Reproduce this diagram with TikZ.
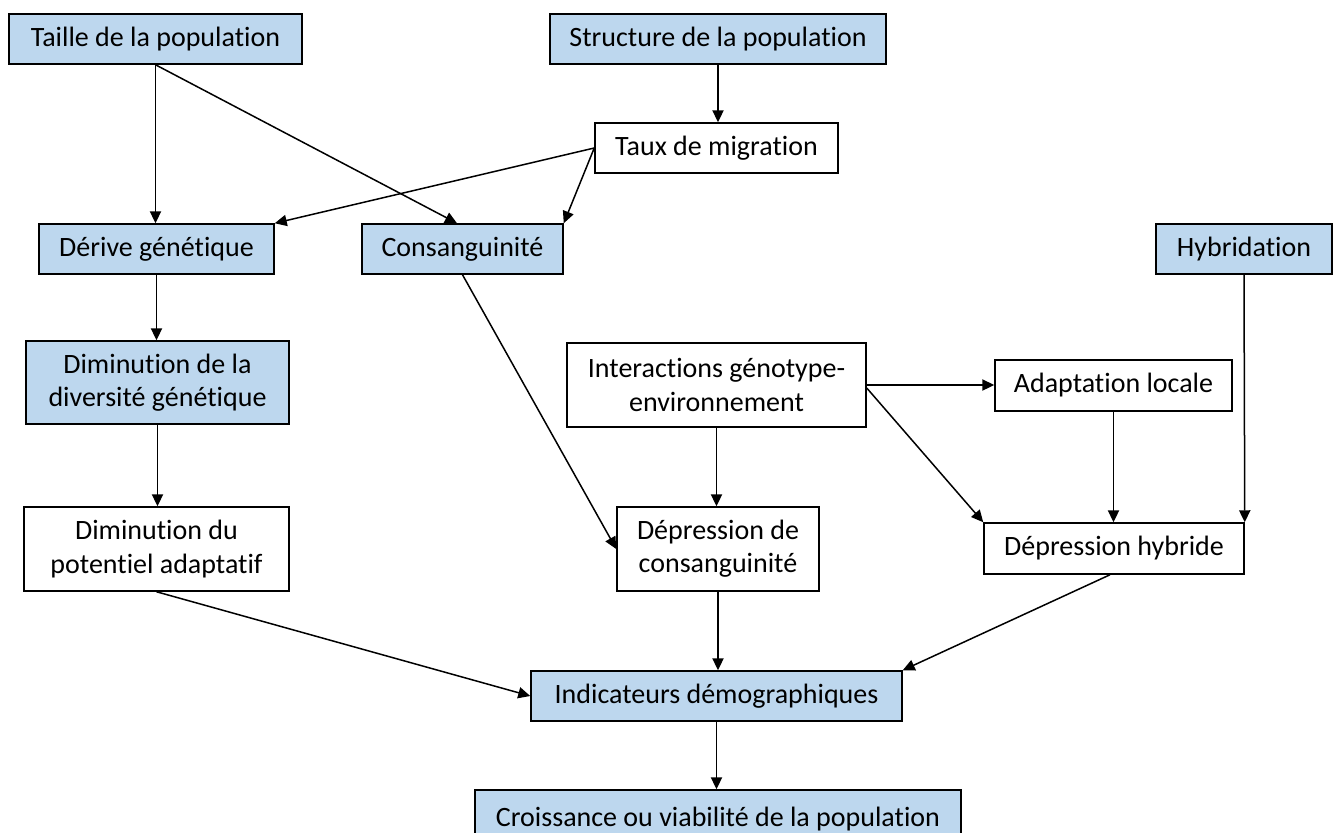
\documentclass[tikz,border=0pt]{standalone}
\usepackage{fontspec}
\setmainfont{Carlito}[RawFeature=-liga]
\usetikzlibrary{arrows.meta}

\definecolor{boxblue}{HTML}{BDD7EE}

\begin{document}
\begin{tikzpicture}[x=0.5pt,y=-0.5pt,>={Triangle[length=6pt,width=5.6pt]},
	line width=0.75pt,
	]

	\tikzset{facteur/.style={
				draw=black,
				fill=boxblue,
				inner sep=0pt,
				align=center,
				font=\fontsize{14}{16.6}\selectfont}
	}
	\tikzset{effet/.style={
				facteur,
				fill=white}
	}

	\useasboundingbox (0,0) rectangle (1339,832);
	\clip (0,0) rectangle (1339,832);

	\node[facteur,minimum width=146.5pt,minimum height=25pt] (taille) at (155.5,39) {Taille de la population};
	\node[facteur,minimum width=168pt,minimum height=25pt] (structure) at (718,39) {Structure de la population};
	\node[effet,minimum width=121.5pt,minimum height=25pt] (taux) at (716.5,148) {Taux de migration};

	\node[facteur,minimum width=117.5pt,minimum height=25pt] (derive) at (156.5,249) {D\'erive g\'en\'etique};
	\node[facteur,minimum width=100.5pt,minimum height=25pt] (consang) at (462.5,249) {Consanguinit\'e};
	\node[facteur,minimum width=88pt,minimum height=25pt] (hybrid) at (1244,249) {Hybridation};

	\node[facteur,minimum width=131.5pt,minimum height=41.5pt] (diversite) at (157.5,382.5) {Diminution de la\\diversit\'e g\'en\'etique};
	\node[effet,minimum width=149.5pt,minimum height=42pt] (interact) at (716.5,385) {Interactions g\'enotype-\\environnement};
	\node[effet,minimum width=118.5pt,minimum height=25.5pt] (adapt) at (1113.5,385.5) {Adaptation locale};

	\node[effet,minimum width=132.5pt,minimum height=42pt] (potentiel) at (156.5,549) {Diminution du\\potentiel adaptatif};
	\node[effet,minimum width=101pt,minimum height=42pt] (depcons) at (718,549) {D\'epression de\\consanguinit\'e};
	\node[effet,minimum width=130pt,minimum height=25.5pt] (dephyb) at (1114,548.5) {D\'epression hybride};

	\node[facteur,minimum width=185.5pt,minimum height=25pt] (indic) at (716.5,696) {Indicateurs d\'emographiques};
	\node[facteur,minimum width=243pt,minimum height=30pt,text depth=0pt] (croiss) at (718,820) {\raisebox{3pt}{Croissance ou viabilit\'e de la population}};

	% en haut
	\draw[->] (taille.south) -- (taille.south |- derive.north);
	\draw[->] (taille.south) -- ([xshift=-2.75pt]consang.north);
	\draw[->] (structure.south) -- (structure.south |- taux.north);
	\draw[->] (taux.west) -- (derive.north east);
	\draw[->] (taux.west) -- (consang.north east);

	% colonne de gauche
	\draw[->] (derive.south) -- (derive.south |- diversite.north);
	\draw[->] (diversite.south) -- (diversite.south |- potentiel.north);

	% milieu
	\draw[->] (consang.south) -- (depcons.west);
	\draw[->] (interact.south) -- (interact.south |- depcons.north);
	\draw[->] (interact.east) -- (interact.east -| adapt.west);
	\draw[->] ([yshift=-1.5pt]interact.east) -- (dephyb.north west);

	% droite
	\draw[->] (adapt.south) -- (adapt.south |- dephyb.north);
	\draw[->] (hybrid.south) -- (dephyb.north east);

	% en bas
	\draw[->] (potentiel.south) -- (indic.west);
	\draw[->] (depcons.south) -- (depcons.south |- indic.north);
	\draw[->] ([xshift=-2pt]dephyb.south) -- (indic.north east);
	\draw[->] (indic.south) -- (indic.south |- croiss.north);

\end{tikzpicture}
\end{document}
